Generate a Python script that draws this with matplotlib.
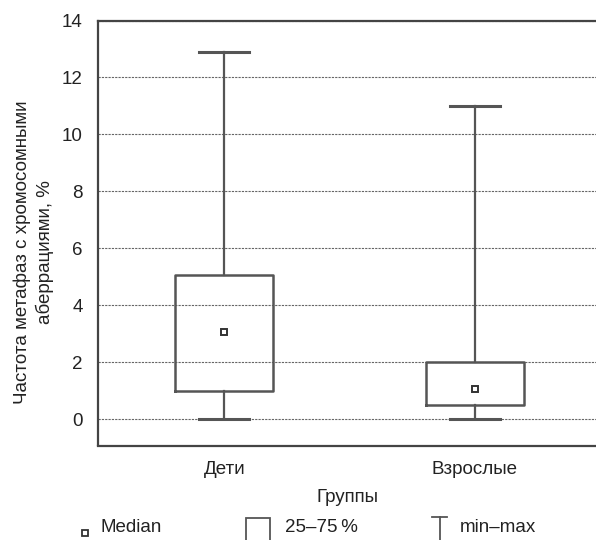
import matplotlib
matplotlib.use("Agg")
import matplotlib.pyplot as plt
from matplotlib.lines import Line2D
from matplotlib.patches import Rectangle

plt.rcParams['font.family'] = ['Liberation Sans Narrow', 'Liberation Sans', 'DejaVu Sans']

# data
groups = ["Дети", "Взрослые"]
q1 = [1.0, 0.5]
q3 = [5.05, 2.0]
medians = [3.05, 1.05]
mins = [0.0, 0.0]
maxs = [12.9, 11.0]
yticks = [0, 2, 4, 6, 8, 10, 12, 14]

LC = '#555555'
W, H = 596, 540

fig = plt.figure(figsize=(W / 100, H / 100), dpi=100)
ax = fig.add_axes([98 / W, 1 - 445.5 / H, 1 - 98 / W + 0.002, (445.5 - 20.5) / H])

stats = []
for i in range(len(groups)):
    stats.append(dict(label=groups[i], q1=q1[i], q3=q3[i], med=medians[i],
                      whislo=mins[i], whishi=maxs[i]))

pos = list(range(len(groups)))
ax.bxp(stats, positions=pos, widths=0.392, capwidths=0.2, showfliers=False,
       boxprops=dict(color=LC, linewidth=1.8),
       whiskerprops=dict(color=LC, linewidth=1.6),
       capprops=dict(color=LC, linewidth=2.2),
       medianprops=dict(linestyle='none'))
ax.plot(pos, medians, linestyle='none', marker='s', markersize=5,
        markerfacecolor='white', markeredgecolor='#333333', markeredgewidth=1.4, zorder=5)

ax.set_xlim(-0.504, 1.488)
ax.set_ylim(-0.92, 14)
ax.set_yticks(yticks)
ax.set_xticks(pos)
ax.set_xticklabels(groups)
ax.tick_params(axis='both', length=0, labelsize=13.5, colors='#222222')
ax.tick_params(axis='y', pad=11)
ax.tick_params(axis='x', pad=11)

ax.grid(axis='y', color='#666666', linestyle=(0, (2, 1)), linewidth=0.8)
ax.set_axisbelow(True)
for s in ['left', 'top', 'bottom']:
    ax.spines[s].set_color('#444444')
    ax.spines[s].set_linewidth(1.6)
ax.spines['right'].set_visible(False)

ax.set_xlabel("Группы", fontsize=13.5, color='#222222', labelpad=8)
fig.text(33.5 / W, 1 - 252 / H, "Частота метафаз с хромосомными\nаберрациями, %",
         rotation=90, ha='center', va='center', fontsize=13.5, color='#222222',
         linespacing=1.35)

# legend drawn by hand
fig.add_artist(Line2D([85 / W], [1 - 533 / H], marker='s', markersize=5,
                      markerfacecolor='white', markeredgecolor='#333333',
                      markeredgewidth=1.3, linestyle='none'))
fig.text(100 / W, 1 - 527 / H, "Median", ha='left', va='center', fontsize=13.5, color='#222222')

fig.add_artist(Rectangle((246 / W, -0.02), 24 / W, 0.02 + (540 - 518) / H,
                         facecolor='white', edgecolor=LC, linewidth=1.3))
fig.text(285 / W, 1 - 527 / H, "25–75\u2009%", ha='left', va='center', fontsize=13.5, color='#222222')

fig.add_artist(Line2D([432 / W, 447 / W], [1 - 517 / H, 1 - 517 / H], color=LC, linewidth=1.3))
fig.add_artist(Line2D([439.5 / W, 439.5 / W], [1 - 517 / H, 0], color=LC, linewidth=1.3))
fig.text(460 / W, 1 - 527 / H, "min–max", ha='left', va='center', fontsize=13.5, color='#222222')

fig.savefig("out.png", dpi=100)
